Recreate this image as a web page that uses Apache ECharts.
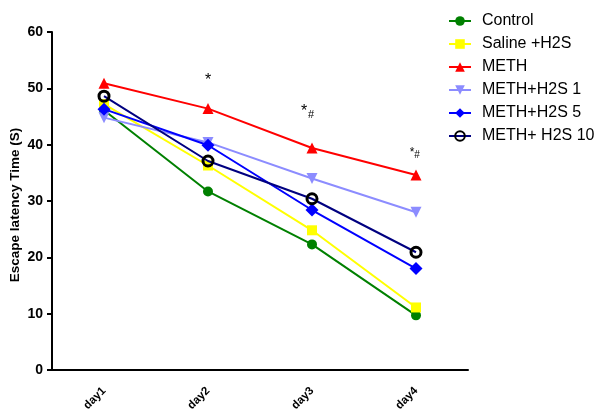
<!DOCTYPE html>
<html><head><meta charset="utf-8">
<script src="https://cdn.jsdelivr.net/npm/echarts@6/dist/echarts.min.js"></script>
<style>html,body{margin:0;padding:0;background:#fff}#c{width:595px;height:412px}</style>
</head><body><div id="c"></div>
<script>
const categories = ['day1','day2','day3','day4'];
const yTicks = [0,10,20,30,40,50,60];
const seriesNames = ['Control','Saline +H2S','METH','METH+H2S 1','METH+H2S 5','METH+ H2S 10'];
const control   = [46.1, 31.7, 22.3, 9.7];
const saline    = [47.2, 36.3, 24.8, 11.1];
const meth      = [50.9, 46.4, 39.4, 34.6];
const methH2S1  = [44.8, 40.4, 34.0, 28.0];
const methH2S5  = [46.3, 39.9, 28.4, 18.0];
const methH2S10 = [48.6, 37.1, 30.4, 20.9];
const annotations = [
  {x:'day2', y:51.4, text:'*', size:16},
  {x:'day3', y:45.9, text:'*', size:16, dx:-8},
  {x:'day3', y:45.2, text:'#', size:11, dx:-1},
  {x:'day4', y:38.5, text:'*', size:12, dx:-4},
  {x:'day4', y:38.2, text:'#', size:10, dx:1}
];

const FONT = '"Liberation Sans", Arial, sans-serif';
const styles = [
  {color:'#008000', symbol:'circle', size:10},
  {color:'#FFFF00', symbol:'rect', size:10},
  {color:'#FF0000', symbol:'triangle', size:11},
  {color:'#8C8CFF', symbol:'triangle', size:11, rotate:180},
  {color:'#0000FF', symbol:'diamond', size:13},
  {color:'#000080', symbol:'circle', size:10, hollow:true}
];
const dataArr = [control, saline, meth, methH2S1, methH2S5, methH2S10];

const series = dataArr.map((d,i)=>{
  const s = styles[i];
  return {
    name: seriesNames[i], type:'line', data:d,
    lineStyle:{color:s.color, width:2},
    symbol:s.symbol, symbolSize:s.size, symbolRotate:s.rotate||0,
    itemStyle: s.hollow ? {color:'rgba(255,255,255,0)', borderColor:'#000000', borderWidth:3} : {color:s.color, borderWidth:0},
    emphasis:{disabled:true}, animation:false, z:2+i
  };
});
series[2].markPoint = {
  symbol:'circle', symbolSize:1, itemStyle:{color:'rgba(0,0,0,0)'}, animation:false, silent:true,
  data: annotations.map(a=>({coord:[a.x,a.y], value:a.text,
    label:{show:true, position:'inside', formatter:a.text, fontSize:a.size, color:'#000', fontFamily:FONT, offset:[a.dx||0,0]}}))
};

const chart = echarts.init(document.getElementById('c'), null, {renderer:'canvas'});
chart.setOption({
  backgroundColor:'#ffffff',
  animation:false,
  grid:{left:52, right:127, top:32, bottom:42, containLabel:false, outerBoundsMode:'none'},
  legend:{
    orient:'vertical', left:443, top:8, itemWidth:22, itemHeight:12, itemGap:7,
    data: seriesNames,
    textStyle:{fontFamily:FONT, fontSize:16, color:'#000', padding:[0,0,0,6]},
    selectedMode:false
  },
  xAxis:{
    type:'category', data:categories, boundaryGap:true,
    axisLine:{lineStyle:{color:'#000', width:2}},
    axisTick:{alignWithLabel:true, length:4, lineStyle:{color:'#000', width:2}},
    axisLabel:{rotate:45, fontFamily:FONT, fontWeight:'bold', fontSize:11.5, color:'#000', margin:19}
  },
  yAxis:{
    type:'value', min:yTicks[0], max:yTicks[yTicks.length-1], interval:10,
    name:'Escape latency Time (S)', nameLocation:'middle', nameGap:30, nameMoveOverlap:false,
    nameTextStyle:{fontFamily:FONT, fontWeight:'bold', fontSize:13.5, color:'#000', padding:[0,8,0,0]},
    axisLine:{show:true, lineStyle:{color:'#000', width:2}},
    axisTick:{show:true, length:5, lineStyle:{color:'#000', width:2}},
    splitLine:{show:false},
    axisLabel:{fontFamily:FONT, fontWeight:'bold', fontSize:14, color:'#000', margin:9}
  },
  series: series
});
</script></body></html>
